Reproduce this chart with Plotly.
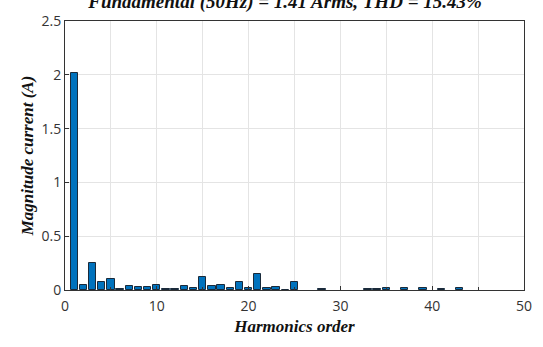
import plotly.graph_objects as go

harmonics = list(range(1, 51))
magnitudes = [2.02, 0.05, 0.25, 0.07, 0.10, 0.012, 0.04, 0.03, 0.03, 0.05,
              0.012, 0.005, 0.04, 0.015, 0.12, 0.04, 0.05, 0.015, 0.07, 0.015,
              0.15, 0.015, 0.03, 0.003, 0.075, 0.0, 0.0, 0.01, 0.0, 0.0,
              0.0, 0.0, 0.01, 0.01, 0.015, 0.0, 0.015, 0.0, 0.015, 0.0,
              0.01, 0.0, 0.015, 0.0, 0.0, 0.0, 0.0, 0.0, 0.0, 0.0]
title_text = "Fundamental (50Hz) = 1.41 Arms, THD = 15.43%"
x_ticks = [0, 10, 20, 30, 40, 50]
y_ticks = [0, 0.5, 1, 1.5, 2, 2.5]

xs = [h for h, m in zip(harmonics, magnitudes) if m > 0]
ys = [m for m in magnitudes if m > 0]

fig = go.Figure(go.Bar(
    x=xs, y=ys, width=0.8,
    marker=dict(color="#0072BD", line=dict(color="#1a2a3a", width=1)),
))

serif = "Liberation Serif"
fig.update_layout(
    width=543, height=347,
    margin=dict(l=65, r=11, t=19, b=57),
    paper_bgcolor="white", plot_bgcolor="white",
    showlegend=False,
    title=dict(text="<b><i>" + title_text + "</i></b>", x=0.525, xanchor="center",
               y=0.997, yanchor="middle", yref="container",
               font=dict(family=serif, size=19, color="#111")),
    xaxis=dict(range=[0, 50], tickvals=x_ticks, showgrid=True, gridcolor="#e4e4e4",
               minor=dict(dtick=5, tick0=0, showgrid=True, gridcolor="#e4e4e4", ticks="inside",
                          ticklen=3, tickcolor="#333"),
               ticks="inside", ticklen=4, tickcolor="#333",
               showline=True, linecolor="#333", linewidth=1, mirror=True,
               ticklabelstandoff=3,
               tickfont=dict(family="Open Sans", size=14, color="#333"),
               title=dict(text="<b><i>Harmonics order</i></b>", standoff=6,
                          font=dict(family=serif, size=17, color="#111")),
               zeroline=False),
    yaxis=dict(range=[0, 2.5], tickvals=y_ticks, ticktext=["0", "0.5", "1", "1.5", "2", "2.5"],
               showgrid=True, gridcolor="#e4e4e4",
               ticks="inside", ticklen=4, tickcolor="#333",
               showline=True, linecolor="#333", linewidth=1, mirror=True,
               tickfont=dict(family="Open Sans", size=14, color="#333"),
               title=dict(text="<b><i>Magnitude current (A)</i></b>", standoff=3,
                          font=dict(family=serif, size=17, color="#111")),
               zeroline=False),
    bargap=0,
)

fig.write_html("out.html")
